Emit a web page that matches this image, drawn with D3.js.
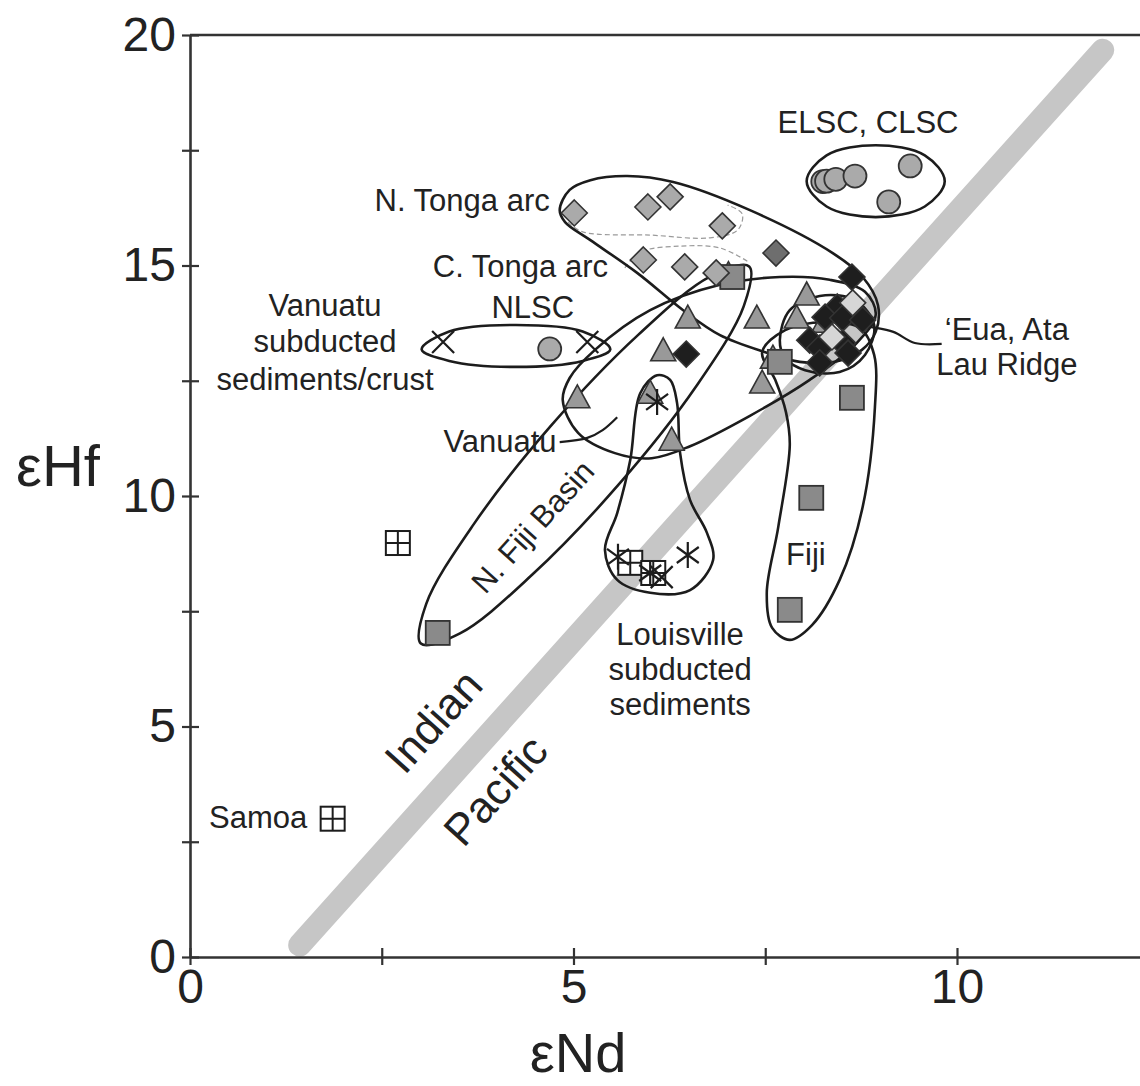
<!DOCTYPE html>
<html><head><meta charset="utf-8">
<script src="https://cdn.jsdelivr.net/npm/d3@7"></script>
<style>
html,body{margin:0;padding:0;background:#fff;}
svg{display:block;}
text{font-family:"Liberation Sans",Arial,Helvetica,sans-serif;fill:#222;}
</style></head><body>
<svg id="chart" width="1140" height="1086"></svg>
<script>
// ---------- axes ----------
const xDomain = [0, 12.386];
const yDomain = [0, 20];
const xTicks = [0, 2.5, 5, 7.5, 10];
const yTicks = [0, 2.5, 5, 7.5, 10, 12.5, 15, 17.5, 20];
const xTickLabels = ["0", "", "5", "", "10"];
const yTickLabels = ["0", "", "5", "", "10", "", "15", "", "20"];
const xTitle = "\u03B5Nd";
const yTitle = "\u03B5Hf";

// ---------- data points (eNd, eHf) ----------
const tongaArcDiamonds = [[5.01,16.14],[5.97,16.27],[6.26,16.49],[6.94,15.86],[5.91,15.12],[6.45,14.97],[6.86,14.84]];
const tongaGrayDiamonds = [[7.64,15.27]];
const lauPaleDiamonds = [[8.64,14.19],[8.37,13.45]];
const euaLauDiamonds = [[8.63,14.75],[6.47,13.08],[8.44,14.10],[8.28,13.88],[8.51,13.86],[8.08,13.38],[8.21,13.21],[8.51,13.32],[8.58,13.10],[8.21,12.89],[8.77,13.82]];
const vanuatuFijiTriangles = [[5.05,12.13],[6.17,13.15],[6.49,13.86],[8.04,14.36],[7.39,13.86],[7.91,13.86],[8.27,13.77],[7.60,12.99],[7.46,12.45],[6.28,11.21],[6.00,12.23],[7.02,14.80]];
const fijiSquares = [[7.07,14.75],[7.69,12.91],[8.63,12.13],[8.10,9.96],[7.82,7.53],[3.23,7.03]];
const elscCircles = [[8.25,16.82],[8.30,16.83],[8.42,16.87],[8.67,16.94],[9.39,17.16],[9.11,16.38]];
const nlscCircles = [[4.69,13.19]];
const samoaCrossSquares = [[2.71,8.98],[1.86,3.00]];
const louisvilleCrossSquares = [[5.74,8.55],[6.04,8.33]];
const sedimentX = [[3.30,13.34],[5.18,13.34],[6.15,8.24]];
const louisvilleAsterisks = [[5.58,8.68],[6.49,8.72],[6.09,12.04],[6.00,8.33]];

// Indian / Pacific mantle divide
const divideLine = [[1.43,0.26],[11.90,19.67]];

// ---------- field outlines (eNd, eHf control points) ----------
const elscField = [[8.04,16.83],[8.30,17.39],[8.94,17.61],[9.58,17.39],[9.84,16.83],[9.58,16.28],[8.94,16.05],[8.30,16.28]];
const tongaField = [[4.82,16.20],[4.95,16.64],[5.22,16.85],[5.70,16.94],[6.30,16.81],[7.30,16.20],[8.38,15.27],[8.77,14.75],[8.97,14.14],[8.94,13.56],[8.76,13.17],[8.41,12.91],[7.95,12.91],[7.50,13.12],[6.91,13.49],[6.43,14.03],[5.83,14.84],[5.22,15.55],[4.89,15.94]];
const vanSedField = [[3.02,13.18],[3.38,13.57],[4.25,13.71],[5.12,13.57],[5.48,13.18],[5.12,12.93],[4.25,12.80],[3.38,12.93]];
const vanuatuField = [[4.86,12.08],[5.06,11.37],[5.54,10.93],[6.02,10.82],[6.52,11.08],[7.30,11.74],[8.08,12.52],[8.67,13.28],[8.94,13.93],[8.80,14.43],[8.34,14.69],[7.69,14.75],[6.91,14.58],[6.00,14.03],[5.28,13.17],[4.95,12.56]];
const nFijiField = [[7.29,14.98],[6.78,14.76],[5.84,13.49],[4.71,11.53],[3.70,9.39],[3.08,7.66],[3.01,6.80],[3.52,7.02],[4.46,8.29],[5.59,10.25],[6.60,12.38],[7.22,14.12]];
const lauField = [[7.69,13.38],[7.82,14.03],[8.21,14.34],[8.67,14.25],[8.92,13.71],[8.80,13.06],[8.47,12.69],[8.02,12.73],[7.76,12.99]];
const fijiField = [[7.46,13.12],[7.63,12.52],[7.77,11.82],[7.82,11.11],[7.67,9.33],[7.52,7.90],[7.59,7.14],[7.82,6.88],[8.11,7.20],[8.47,8.18],[8.77,9.76],[8.93,11.93],[8.92,13.06],[8.74,13.64],[8.28,13.77],[7.76,13.60]];
const louisvilleField = [[6.09,12.62],[5.87,12.23],[5.74,10.78],[5.57,9.63],[5.41,8.83],[5.57,8.18],[6.00,7.90],[6.52,7.96],[6.82,8.61],[6.74,9.20],[6.52,9.91],[6.39,10.93],[6.35,12.02],[6.26,12.52]];
const nTongaSub = [[4.93,15.94],[5.12,15.73],[6.00,15.66],[6.78,15.60],[7.14,15.77],[7.20,16.12],[7.01,16.31]];
const cTongaSub = [[5.67,14.95],[5.87,15.29],[6.39,15.42],[6.91,15.38],[7.28,15.08]];
const euaLeader = [[9.80,13.30],[9.45,13.32],[9.17,13.56],[8.87,13.67],[8.67,13.73]];
const vanuatuLeader = [[4.82,11.17],[5.18,11.26],[5.38,11.43],[5.57,11.71]];

// ---------- labels ----------
const fieldLabels = [
  {t:"ELSC, CLSC", x:8.84, y:17.87, a:"middle"},
  {t:"N. Tonga arc", x:4.69, y:16.18, a:"end"},
  {t:"C. Tonga arc", x:5.45, y:14.75, a:"end"},
  {t:"NLSC", x:4.47, y:13.86, a:"middle"},
  {t:"Vanuatu", x:1.76, y:13.90, a:"middle"},
  {t:"subducted", x:1.76, y:13.12, a:"middle"},
  {t:"sediments/crust", x:1.76, y:12.30, a:"middle"},
  {t:"Vanuatu", x:4.78, y:10.95, a:"end"},
  {t:"Fiji", x:8.03, y:8.50, a:"middle"},
  {t:"Louisville", x:6.39, y:6.77, a:"middle"},
  {t:"subducted", x:6.39, y:6.01, a:"middle"},
  {t:"sediments", x:6.39, y:5.25, a:"middle"},
  {t:"\u2018Eua, Ata", x:10.65, y:13.38, a:"middle"},
  {t:"Lau Ridge", x:10.65, y:12.62, a:"middle"},
  {t:"Samoa", x:1.53, y:2.80, a:"end"}
];
const rotatedLabels = [
  {t:"N. Fiji Basin", x:4.47, y:9.33, size:31},
  {t:"Indian", x:3.17, y:5.12, size:44},
  {t:"Pacific", x:3.98, y:3.62, size:44}
];

// ---------- drawing ----------
const svg = d3.select("#chart");
const x = d3.scaleLinear().domain(xDomain).range([190, 1140]);
const y = d3.scaleLinear().domain(yDomain).range([957, 35]);

const INK = "#1c1c1c";

// divide band
svg.append("path")
  .attr("d", d3.line().x(d=>x(d[0])).y(d=>y(d[1]))(divideLine))
  .attr("stroke", "#c6c6c6").attr("stroke-width", 23)
  .attr("stroke-linecap", "round").attr("fill", "none");

// axes
const yAxis = svg.append("g").attr("transform", `translate(${x(0)},0)`)
  .call(d3.axisLeft(y).tickValues(yTicks).tickSize(0).tickPadding(14)
    .tickFormat((d,i)=>yTickLabels[i]));
const xAxis = svg.append("g").attr("transform", `translate(0,${y(0)})`)
  .call(d3.axisBottom(x).tickValues(xTicks).tickSize(0).tickPadding(12)
    .tickFormat((d,i)=>xTickLabels[i]));
[yAxis, xAxis].forEach(g=>{
  g.select(".domain").attr("stroke", "#333").attr("stroke-width", 2.6);
  g.selectAll("text").attr("font-size", 48).attr("fill", "#222")
    .attr("font-family", "'Liberation Sans', Arial, sans-serif");
});
yAxis.selectAll(".tick line").attr("x1", -8).attr("x2", 9).attr("stroke", "#333").attr("stroke-width", 2.2);
xAxis.selectAll(".tick line").attr("y1", -9).attr("y2", 8).attr("stroke", "#333").attr("stroke-width", 2.2);
// top frame line
svg.append("line").attr("x1", x(0)).attr("x2", x(xDomain[1])).attr("y1", y(20)).attr("y2", y(20))
  .attr("stroke", "#333").attr("stroke-width", 2.6);

svg.append("text").text(yTitle).attr("x", 58).attr("y", 486)
  .attr("text-anchor", "middle").attr("font-size", 58);
svg.append("text").text(xTitle).attr("x", 578).attr("y", 1072)
  .attr("text-anchor", "middle").attr("font-size", 56);

// fields
const closed = d3.line().x(d=>x(d[0])).y(d=>y(d[1])).curve(d3.curveCatmullRomClosed.alpha(0.5));
const open = d3.line().x(d=>x(d[0])).y(d=>y(d[1])).curve(d3.curveCatmullRom.alpha(0.5));

[nTongaSub, cTongaSub].forEach(p=>{
  svg.append("path").attr("d", open(p)).attr("fill","none")
    .attr("stroke","#9a9a9a").attr("stroke-width",1.2).attr("stroke-dasharray","5,3");
});
[elscField, tongaField, vanSedField, vanuatuField, nFijiField, lauField, fijiField, louisvilleField].forEach(p=>{
  svg.append("path").attr("d", closed(p)).attr("fill","none")
    .attr("stroke", INK).attr("stroke-width", 2.6);
});
[euaLeader, vanuatuLeader].forEach(p=>{
  svg.append("path").attr("d", open(p)).attr("fill","none")
    .attr("stroke", INK).attr("stroke-width", 2.2);
});

// marker helpers
function place(data, cls) {
  return svg.append("g").selectAll("g." + cls).data(data).join("g")
    .attr("class", cls)
    .attr("transform", d=>`translate(${x(d[0])},${y(d[1])})`);
}
const MS = "#333";
function diamonds(data, fill) {
  place(data, "dia").append("path").attr("d", "M0,-13L13,0L0,13L-13,0Z")
    .attr("fill", fill).attr("stroke", MS).attr("stroke-width", 1.6);
}
function squares(data, fill) {
  place(data, "sq").append("rect").attr("x",-12).attr("y",-12).attr("width",24).attr("height",24)
    .attr("fill", fill).attr("stroke", MS).attr("stroke-width", 1.8);
}
function triangles(data, fill) {
  place(data, "tri").append("path").attr("d", "M0,-13L12.5,10L-12.5,10Z")
    .attr("fill", fill).attr("stroke", MS).attr("stroke-width", 1.6);
}
function circles(data, fill) {
  place(data, "cir").append("circle").attr("r", 11.5)
    .attr("fill", fill).attr("stroke", MS).attr("stroke-width", 1.8);
}
function crossSquares(data) {
  const g = place(data, "csq");
  g.append("rect").attr("x",-12).attr("y",-12).attr("width",24).attr("height",24)
    .attr("fill","#fff").attr("stroke", INK).attr("stroke-width", 2);
  g.append("path").attr("d","M0,-12V12M-12,0H12").attr("stroke", INK).attr("stroke-width", 2);
}
function xMarks(data) {
  place(data, "xm").append("path").attr("d","M-11,-11L11,11M-11,11L11,-11")
    .attr("stroke", INK).attr("stroke-width", 2.2).attr("fill","none");
}
function asterisks(data) {
  place(data, "ast").append("path").attr("d","M-11,-8L11,8M-11,8L11,-8M0,-13V13")
    .attr("stroke", INK).attr("stroke-width", 2.2).attr("fill","none");
}

triangles(vanuatuFijiTriangles, "#999");
squares(fijiSquares, "#8a8a8a");
circles(elscCircles, "#aaa");
circles(nlscCircles, "#aaa");
diamonds(tongaArcDiamonds, "#aaa");
diamonds(tongaGrayDiamonds, "#6e6e6e");
diamonds(euaLauDiamonds, "#1e1e1e");
diamonds(lauPaleDiamonds, "#d6d6d6");
crossSquares(samoaCrossSquares);
crossSquares(louisvilleCrossSquares);
xMarks(sedimentX);
asterisks(louisvilleAsterisks);

// labels
svg.append("g").selectAll("text").data(fieldLabels).join("text")
  .attr("x", d=>x(d.x)).attr("y", d=>y(d.y)).attr("text-anchor", d=>d.a)
  .attr("font-size", 31).text(d=>d.t);
svg.append("g").selectAll("text").data(rotatedLabels).join("text")
  .attr("transform", d=>`translate(${x(d.x)},${y(d.y)}) rotate(-48)`)
  .attr("text-anchor","middle").attr("dominant-baseline","central")
  .attr("font-size", d=>d.size).text(d=>d.t);
</script>
</body></html>
